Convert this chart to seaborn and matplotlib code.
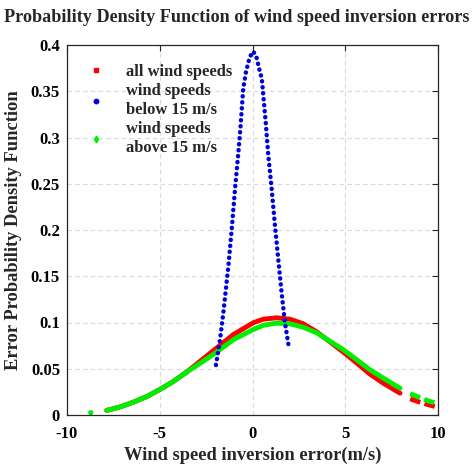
import numpy as np
import pandas as pd
import matplotlib
matplotlib.use("Agg")
import matplotlib.pyplot as plt
from matplotlib.lines import Line2D
import seaborn as sns

# ---------------- data ----------------
red_x = [-7.86, -7.77, -7.14, -6.43, -5.70, -4.93, -4.27, -3.55, -2.83, -1.93,
         -1.03, 0.04, 0.58, 1.30, 2.02, 2.74, 3.46, 4.18, 4.89, 5.62, 6.33,
         7.05, 7.95]
red_y = [0.0050, 0.0054, 0.0087, 0.0138, 0.0199, 0.0283, 0.0362, 0.0464,
         0.0580, 0.0725, 0.0870, 0.0997, 0.1036, 0.1051, 0.1036, 0.0986,
         0.0899, 0.0790, 0.0681, 0.0562, 0.0442, 0.0344, 0.0236]
red_tail_x = [8.50, 9.00, 9.50, 10.00]
red_tail_y = [0.0175, 0.0140, 0.0110, 0.0085]

green_x = [-7.86, -7.77, -7.14, -6.43, -5.70, -4.93, -4.27, -3.55, -2.83,
           -1.93, -1.03, 0.04, 0.58, 1.30, 2.02, 2.74, 3.46, 4.18, 4.89,
           5.62, 6.33, 7.05, 7.95]
green_y = [0.0050, 0.0054, 0.0087, 0.0138, 0.0199, 0.0283, 0.0362, 0.0464,
           0.0558, 0.0680, 0.0815, 0.0924, 0.0970, 0.0993, 0.0986, 0.0949,
           0.0888, 0.0797, 0.0707, 0.0598, 0.0489, 0.0399, 0.0290]
green_tail_x = [8.50, 9.00, 9.50, 10.00]
green_tail_y = [0.0230, 0.0190, 0.0150, 0.0125]
green_lone_x = [-8.72]
green_lone_y = [0.0025]

blue_x = [-1.97, -1.75, -1.57, -1.30, -1.12, -0.94, -0.76, -0.64, -0.50,
          -0.35, -0.15, 0.04, 0.20, 0.40, 0.50, 0.71, 0.85, 1.03, 1.21, 1.39,
          1.57, 1.75, 1.98]
blue_y = [0.054, 0.0815, 0.111, 0.161, 0.201, 0.245, 0.284, 0.313, 0.353,
          0.371, 0.387, 0.393, 0.388, 0.371, 0.364, 0.317, 0.281, 0.245,
          0.205, 0.168, 0.132, 0.0997, 0.0707]

legend_labels = ["all wind speeds", "wind speeds\nbelow 15 m/s",
                 "wind speeds\nabove 15 m/s"]
x_ticks = [-10, -5, 0, 5, 10]
x_tick_labels = ["-10", "-5", "0", "5", "10"]
y_ticks = [0, 0.05, 0.1, 0.15, 0.2, 0.25, 0.3, 0.35, 0.4]
y_tick_labels = ["0", "0.05", "0.1", "0.15", "0.2", "0.25", "0.3", "0.35", "0.4"]

title = "Probability Density Function of wind speed inversion errors"
xlabel = "Wind speed inversion error(m/s)"
ylabel = "Error Probability Density Function"

# ---------------- style ----------------
sns.set_theme(style="white")
plt.rcParams['font.family'] = ['Liberation Serif', 'DejaVu Serif']
plt.rcParams['font.weight'] = 'bold'
plt.rcParams['axes.unicode_minus'] = False

fig = plt.figure(figsize=(4.74, 4.74), dpi=100)
ax = fig.add_axes([67/474, 1 - 415/474, (438 - 67)/474, (415 - 45)/474])

RED = "#ff0000"
GREEN = "#00ee00"
BLUE = "#0000dd"
LW = 3.5

red_df = pd.DataFrame({"x": red_x, "y": red_y})
red_tail = pd.DataFrame({"x": red_tail_x, "y": red_tail_y})
green_df = pd.DataFrame({"x": green_x, "y": green_y})
green_tail = pd.DataFrame({"x": green_tail_x, "y": green_tail_y})
blue_df = pd.DataFrame({"x": blue_x, "y": blue_y})

sns.lineplot(data=red_df, x="x", y="y", ax=ax, color=RED, lw=LW,
             sort=False, estimator=None, solid_capstyle="round")
sns.lineplot(data=red_tail, x="x", y="y", ax=ax, color=RED, lw=LW,
             sort=False, estimator=None)
ax.lines[-1].set_dashes((2.2, 0.9))
sns.lineplot(data=green_df, x="x", y="y", ax=ax, color=GREEN, lw=LW,
             sort=False, estimator=None, solid_capstyle="round")
sns.lineplot(data=green_tail, x="x", y="y", ax=ax, color=GREEN, lw=LW,
             sort=False, estimator=None)
ax.lines[-1].set_dashes((2.2, 0.9))
sns.scatterplot(x=green_lone_x, y=green_lone_y, ax=ax, color=GREEN, s=14,
                edgecolor="none")
sns.lineplot(data=blue_df, x="x", y="y", ax=ax, color=BLUE, lw=3.2,
             sort=False, estimator=None)
bl = ax.lines[-1]
bl.set_dashes((0.05, 1.3))
bl.set_dash_capstyle("round")

# ---------------- axes ----------------
ax.set_xlim(-10, 10)
ax.set_ylim(0, 0.4)
ax.set_xticks(x_ticks)
ax.set_xticklabels(x_tick_labels, fontsize=12, fontweight="bold")
ax.set_yticks(y_ticks)
ax.set_yticklabels(y_tick_labels, fontsize=12, fontweight="bold")
ax.tick_params(direction="in", length=4, width=0.8, top=True, right=True,
               colors="#262626", labelcolor="black", pad=5)
ax.tick_params(axis="x", pad=8)
for s in ax.spines.values():
    s.set_color("#262626")
    s.set_linewidth(0.9)
ax.grid(True, color="#d9d9d9", linestyle=(0, (4, 3)), linewidth=0.8)
ax.set_axisbelow(True)

ax.set_xlabel(xlabel, fontsize=13.3, fontweight="bold", labelpad=3)
ax.set_ylabel(ylabel, fontsize=13.3, fontweight="bold", labelpad=6)
fig.text(0.5, 1 - 17/474, title, fontsize=13.1, fontweight="bold",
         ha="center", va="center")

handles = [
    Line2D([], [], marker="s", color=RED, linestyle="none", markersize=2.8),
    Line2D([], [], marker="o", color=BLUE, linestyle="none", markersize=3.2),
    Line2D([], [], marker="d", color=GREEN, linestyle="none", markersize=3.4),
]
leg = ax.legend(handles, legend_labels, loc="upper left",
                bbox_to_anchor=(0.03, 0.975), frameon=False,
                prop={"family": "Liberation Serif", "weight": "bold",
                      "size": 11.9},
                handlelength=1.0, handletextpad=1.3, labelspacing=0.2,
                borderaxespad=0.2)
for t in leg.get_texts():
    t.set_linespacing(1.2)

fig.savefig("out.png", dpi=100)
